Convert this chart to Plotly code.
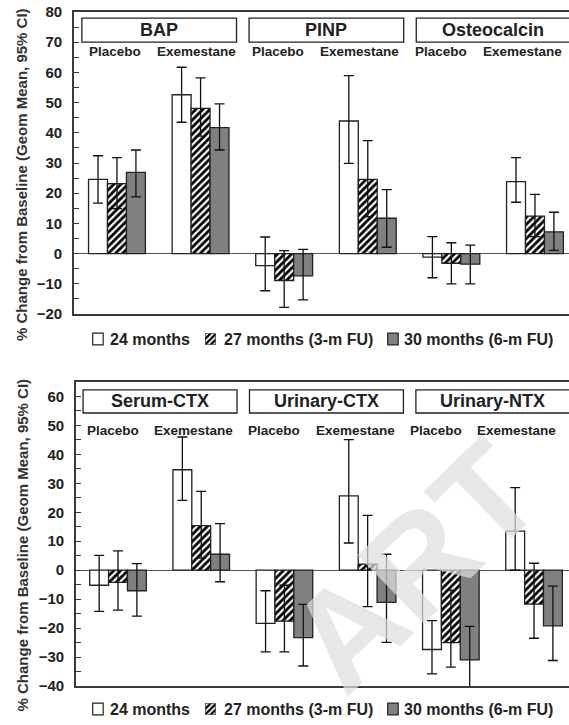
import plotly.graph_objects as go

# ---------------- data ----------------
groups = ["Placebo", "Exemestane"]
top_markers = ["BAP", "PINP", "Osteocalcin"]
bottom_markers = ["Serum-CTX", "Urinary-CTX", "Urinary-NTX"]
series_names = ["24 months", "27 months (3-m FU)", "30 months (6-m FU)"]
watermark_text = "ART"

# top panel (order: BAP Pl, BAP Ex, PINP Pl, PINP Ex, Osteo Pl, Osteo Ex)
top_24 = [24.6, 52.6, -4.0, 43.9, -1.2, 23.8]
top_24_lo = [16.7, 43.5, -12.3, 29.9, -8.0, 17.0]
top_24_hi = [32.4, 61.7, 5.5, 58.9, 5.6, 31.8]
top_27 = [23.2, 48.1, -8.9, 24.6, -3.2, 12.4]
top_27_lo = [14.9, 38.9, -17.8, 12.2, -10.0, 5.6]
top_27_hi = [31.8, 58.2, 1.0, 37.4, 3.6, 19.6]
top_30 = [26.9, 41.7, -7.4, 11.7, -3.5, 7.2]
top_30_lo = [18.8, 34.3, -15.3, 2.1, -10.0, 1.1]
top_30_hi = [34.3, 49.6, 1.4, 21.2, 2.8, 13.7]

# bottom panel (Serum-CTX Pl, Ex, Urinary-CTX Pl, Ex, Urinary-NTX Pl, Ex)
bot_24 = [-5.2, 34.7, -18.4, 25.7, -27.4, 13.5]
bot_24_lo = [-14.2, 24.1, -28.2, 9.4, -35.8, 0.0]
bot_24_hi = [5.1, 46.0, -7.1, 45.1, -17.4, 28.5]
bot_27 = [-4.2, 15.4, -17.6, 2.1, -25.0, -11.7]
bot_27_lo = [-13.8, 4.2, -28.2, -12.6, -33.5, -23.5]
bot_27_hi = [6.7, 27.2, -5.2, 18.9, -6.9, 2.4]
bot_30 = [-7.1, 5.5, -23.3, -11.1, -31.0, -19.2]
bot_30_lo = [-15.9, -4.0, -33.1, -24.9, -40.8, -31.2]
bot_30_hi = [2.3, 16.1, -11.8, 5.5, -19.4, -5.5]

top_range = [-20, 80]
bot_range = [-40, 65]

# ---------------- layout helpers ----------------
W, H = 569, 725
def px(x):
    return x / W
def py(y):
    return 1 - y / H

FONT = "Liberation Sans, Arial, Helvetica, sans-serif"
DARK = "#222222"
LINE = "#3a3a3a"

styles = [
    dict(marker=dict(color="white", line=dict(color=DARK, width=1.3))),
    dict(marker=dict(color="white", line=dict(color=DARK, width=1.3),
                     pattern=dict(shape="/", fgcolor="#000000", bgcolor="white",
                                  size=5, solidity=0.55))),
    dict(marker=dict(color="#808080", line=dict(color=DARK, width=1.3))),
]

fig = go.Figure()
xs = list(range(6))

def add_panel(vals, los, his, xa, ya):
    for k in range(3):
        v, lo, hi = vals[k], los[k], his[k]
        fig.add_trace(go.Bar(
            x=xs, y=v, name=series_names[k], xaxis=xa, yaxis=ya,
            showlegend=False, **styles[k],
            error_y=dict(type="data", symmetric=False,
                         array=[h - a for h, a in zip(hi, v)],
                         arrayminus=[a - l for a, l in zip(v, lo)],
                         color="#111111", thickness=1.3, width=5),
        ))

add_panel([top_24, top_27, top_30], [top_24_lo, top_27_lo, top_30_lo],
          [top_24_hi, top_27_hi, top_30_hi], "x", "y")
add_panel([bot_24, bot_27, bot_30], [bot_24_lo, bot_27_lo, bot_30_lo],
          [bot_24_hi, bot_27_hi, bot_30_hi], "x2", "y2")

def yaxis_cfg(rng, dom, anchor):
    return dict(
        domain=dom, range=rng, anchor=anchor, automargin=False, showgrid=False,
        showline=True, linecolor=LINE, linewidth=1.6,
        ticks="inside", ticklen=5, tickwidth=1.2, tickcolor=LINE, dtick=10,
        tickfont=dict(family=FONT, size=15, color=DARK, weight="bold"),
        ticklabelstandoff=7,
        minor=dict(dtick=5, ticks="inside", ticklen=5, tickwidth=1.2, tickcolor=LINE, showgrid=False),
        zeroline=True, zerolinecolor="#555555", zerolinewidth=1.3,
    )

def xaxis_cfg(rng, dom, anchor):
    return dict(domain=dom, range=rng, anchor=anchor, automargin=False,
                showgrid=False, zeroline=False,
                showline=True, mirror=True, linecolor=LINE, linewidth=1.6,
                showticklabels=False, ticks="")

fig.update_layout(
    template="none",
    width=W, height=H, autosize=False, margin=dict(l=0, r=0, t=0, b=0, pad=0),
    plot_bgcolor="white", paper_bgcolor="white",
    barmode="group", bargap=0.32, bargroupgap=0.0,
    showlegend=False,
    xaxis=xaxis_cfg([-0.514, 5.407], [px(74), 1.0], "y"),
    yaxis=yaxis_cfg(top_range, [py(314), py(12)], "x"),
    xaxis2=xaxis_cfg([-0.505, 5.42], [px(76), 1.0], "y2"),
    yaxis2=yaxis_cfg(bot_range, [py(686), py(382)], "x2"),
)

shapes = []
annotations = []

def panel_decor(markers, xr, yr, box_lo, box_hi, lab_y, lab_off, lab_step):
    for i, name in enumerate(markers):
        c = 2 * i
        shapes.append(dict(type="rect", xref=xr, yref=yr, x0=c - 0.42, x1=c + 1.43,
                           y0=box_lo, y1=box_hi, line=dict(color=DARK, width=1.3),
                           fillcolor="white", layer="above"))
        annotations.append(dict(xref=xr, yref=yr, x=c + 0.5, y=(box_lo + box_hi) / 2,
                                text=name, showarrow=False, xanchor="center", yanchor="middle",
                                font=dict(family=FONT, size=18, color=DARK, weight="bold")))
    for j in range(6):
        annotations.append(dict(xref=xr, yref=yr, x=lab_off + lab_step * j, y=lab_y,
                                text=groups[j % 2], showarrow=False, xanchor="center",
                                yanchor="middle",
                                font=dict(family=FONT, size=13.5, color=DARK, weight="bold")))

panel_decor(top_markers, "x", "y", 70.0, 78.0, 66.8, -0.024, 0.974)
panel_decor(bottom_markers, "x2", "y2", 54.3, 62.3, 48.1, -0.06, 0.97)

# y axis titles
for yc in (174.5, 545):
    annotations.append(dict(xref="paper", yref="paper", x=px(21.5), y=py(yc),
                            text="% Change from Baseline (Geom Mean, 95% CI)",
                            textangle=-90, showarrow=False, xanchor="center", yanchor="middle",
                            font=dict(family=FONT, size=15, color="#333333", weight="bold")))

# legends (one under each panel)
leg_text_x = [108.3, 221.7, 402.0]
leg_sq_x = [92.7, 205.2, 387.7]
for li, yc in enumerate((339.0, 709.0)):
    for k in range(3):
        annotations.append(dict(xref="paper", yref="paper", x=px(leg_text_x[k]), y=py(yc + 0.5),
                                text=series_names[k], showarrow=False, xanchor="left",
                                yanchor="middle",
                                font=dict(family=FONT, size=16, color=DARK, weight="bold")))
    for k in (0, 2):
        shapes.append(dict(type="rect", xref="paper", yref="paper",
                           x0=px(leg_sq_x[k]), x1=px(leg_sq_x[k] + 10.5),
                           y0=py(yc + 5.8), y1=py(yc - 5.8),
                           line=dict(color=DARK, width=1.2),
                           fillcolor=styles[k]["marker"]["color"]))
    # hatched legend swatch drawn as a tiny bar on its own hidden axes
    ax_id = 3 + li
    fig.add_trace(go.Bar(x=[0], y=[1], width=[1], xaxis=f"x{ax_id}", yaxis=f"y{ax_id}",
                         showlegend=False, hoverinfo="skip",
                         marker=dict(color="white", line=dict(color=DARK, width=1.2),
                                     pattern=dict(shape="/", fgcolor="#000000", bgcolor="white",
                                                  size=4, solidity=0.55))))
    fig.layout[f"xaxis{ax_id}"] = dict(domain=[px(leg_sq_x[1]), px(leg_sq_x[1] + 10.5)],
                                       range=[-0.5, 0.5], visible=False, anchor=f"y{ax_id}",
                                       automargin=False)
    fig.layout[f"yaxis{ax_id}"] = dict(domain=[py(yc + 5.8), py(yc - 5.8)],
                                       range=[0, 1], visible=False, anchor=f"x{ax_id}",
                                       automargin=False)

# faint diagonal watermark seen in the lower right of the source (kept inside the canvas)
annotations.append(dict(xref="paper", yref="paper", x=px(414), y=py(566),
                        text=watermark_text, textangle=-44, showarrow=False,
                        xanchor="center", yanchor="middle",
                        font=dict(family=FONT, size=138, color="rgba(222,222,222,0.72)",
                                  weight="bold")))

fig.update_layout(shapes=shapes, annotations=annotations)
fig.write_html("out.html", config={"displayModeBar": False},
               post_script="document.body.style.margin='0';document.body.style.overflow='hidden';")
